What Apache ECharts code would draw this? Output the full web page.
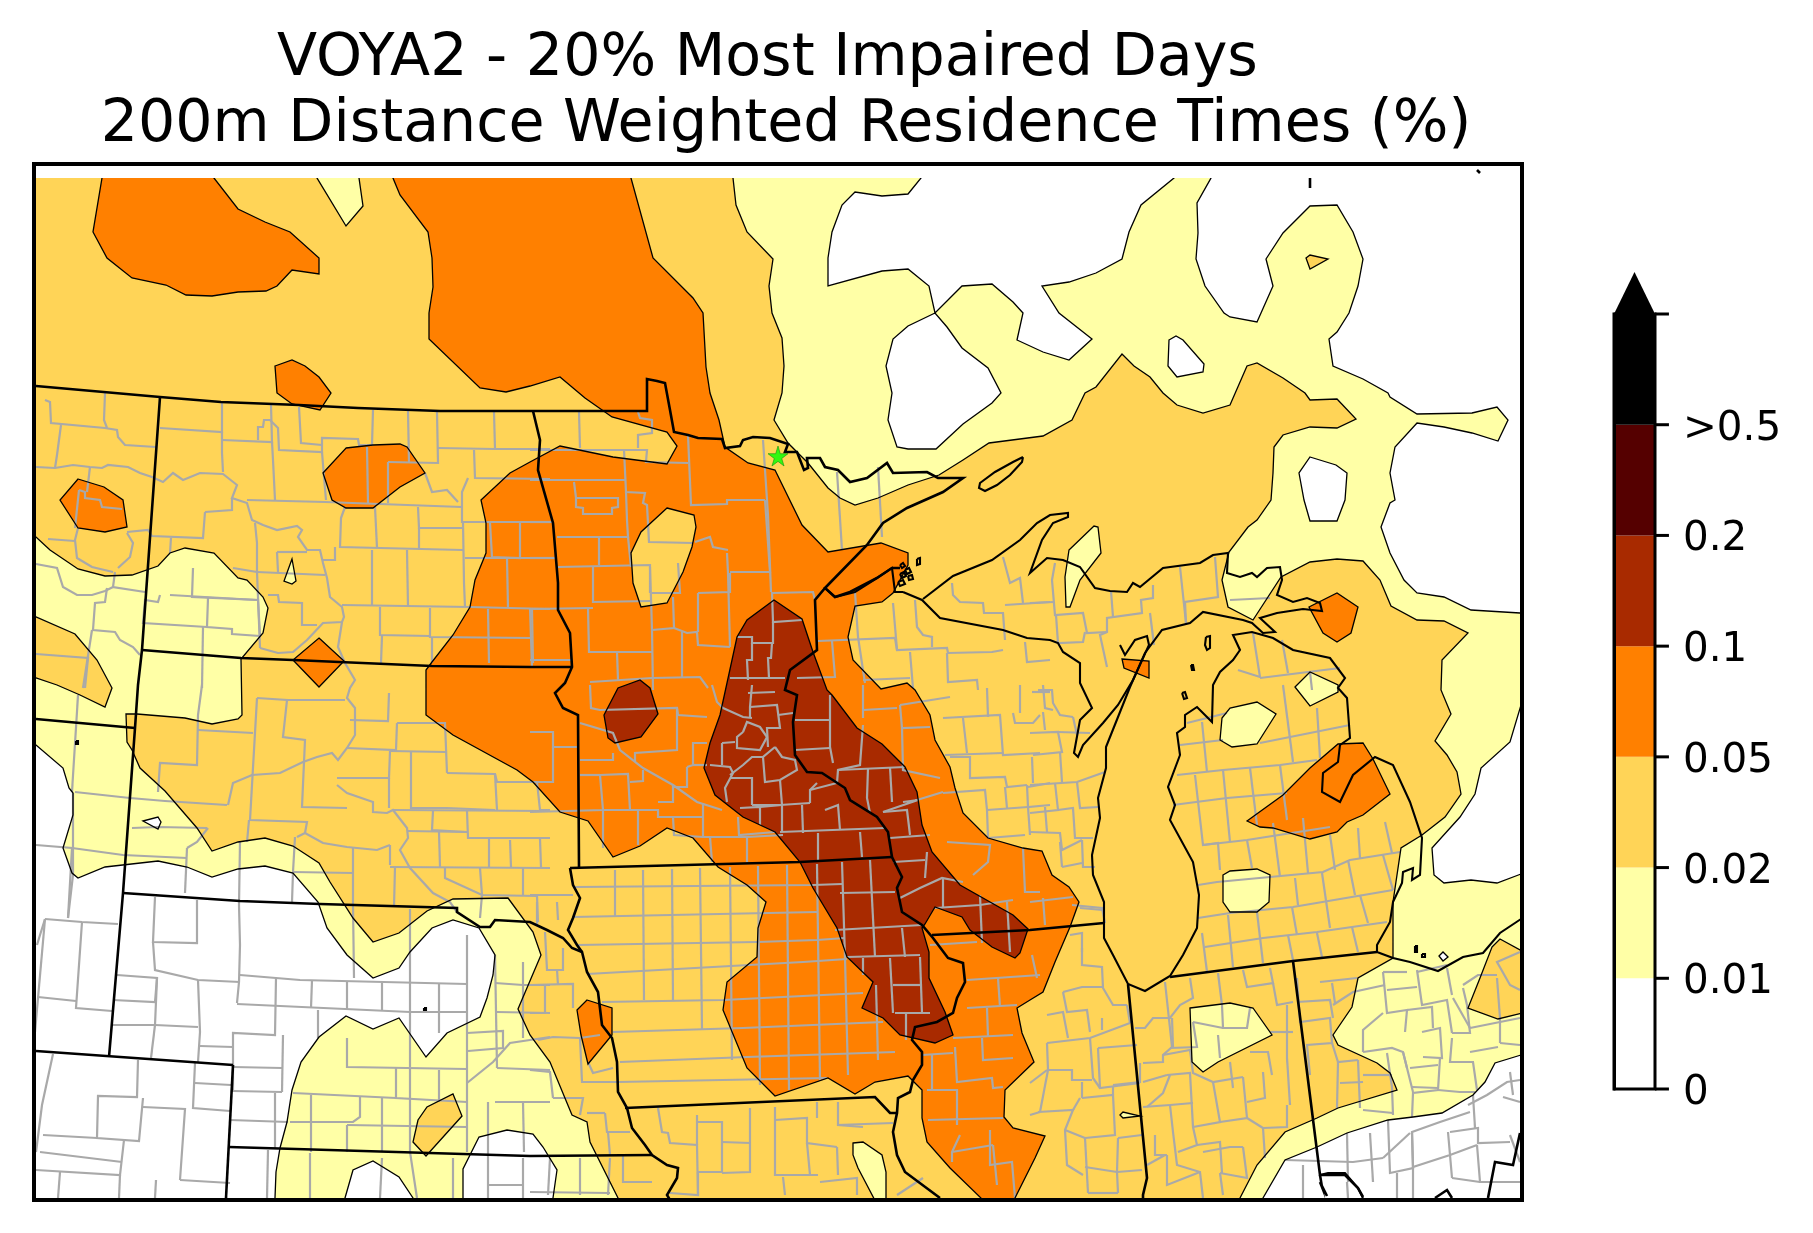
<!DOCTYPE html>
<html>
<head>
<meta charset="utf-8">
<title>VOYA2 residence times</title>
<script src="https://cdn.jsdelivr.net/npm/echarts@6/dist/echarts.min.js"></script>
<style>html,body{margin:0;background:#fff}#chart{width:1813px;height:1233px}</style>
</head>
<body>
<div id="chart"></div>
<script>
// colour bar
const BAR_TICKS = ['0', '0.01', '0.02', '0.05', '0.1', '0.2', '>0.5', ''];
const BAR_COLORS = ['#ffffff', '#ffffa6', '#ffd457', '#ff8000', '#a82a00', '#550000', '#000000'];
const BAR_ARROW_TIP = 7.38;

const STATION = [[778, 456]];

// contour regions, flat x,y lists in map units
const WHITE_AREAS = [
  [921,170,921,178,908,194,882,196,855,192,842,205,832,232,828,258,828,286,882,271,908,269,929,286,935,313,962,286,992,284,1013,302,1023,313,1017,340,1043,352,1069,360,1092,339,1059,313,1042,286,1069,282,1096,273,1122,259,1129,232,1141,205,1174,178,1180,170],
  [1211,170,1211,178,1197,203,1198,233,1196,259,1205,286,1224,313,1230,317,1257,322,1273,286,1266,259,1283,233,1310,206,1337,205,1353,232,1363,259,1358,286,1349,313,1337,332,1329,339,1333,366,1363,379,1388,393,1390,397,1417,414,1472,413,1497,407,1508,420,1498,441,1472,433,1444,427,1417,423,1395,447,1390,473,1395,500,1390,503,1381,527,1390,553,1404,580,1417,593,1444,597,1471,610,1520,613,1535,614,1535,170],
  [935,313,908,326,893,339,886,366,892,393,888,420,897,447,908,449,936,449,963,424,992,403,1001,393,988,368,962,348,947,327],
  [1169,340,1176,336,1183,340,1204,364,1203,372,1177,377,1168,366],
  [1310,457,1336,465,1347,473,1345,500,1337,521,1310,521,1304,500,1299,473],
  [1535,690,1521,705,1510,742,1481,768,1475,794,1460,817,1432,848,1434,875,1444,883,1471,880,1497,883,1521,874,1535,870],
  [1258,1210,1263,1198,1285,1160,1317,1147,1347,1133,1388,1120,1413,1117,1442,1113,1473,1095,1485,1082,1495,1063,1521,1055,1535,1050,1535,1210],
  [20,735,36,745,63,768,69,788,73,793,73,815,63,848,72,873,78,878,105,867,158,861,187,867,212,877,238,869,265,866,293,873,318,902,327,928,347,955,373,978,399,968,410,952,432,928,453,920,479,928,495,955,493,975,487,998,480,1017,447,1033,426,1057,399,1018,373,1029,346,1016,319,1037,301,1062,292,1090,287,1122,280,1148,276,1172,275,1198,275,1210,20,1210],
  [143,821,158,817,161,822,158,829],
  [343,1210,345,1198,353,1170,373,1161,399,1177,413,1198,418,1210],
  [463,1210,463,1169,479,1137,507,1130,533,1134,543,1147,557,1170,553,1198,553,1210],
  [1439,956,1443,952,1448,957,1443,961]
];
const MID_AREAS = [
  [20,170,733,170,733,178,736,205,747,232,773,259,769,286,772,313,782,338,784,366,782,393,774,420,788,443,808,463,828,488,840,498,855,505,878,498,908,485,939,475,963,460,989,443,1043,436,1072,420,1085,393,1096,387,1122,354,1134,366,1150,377,1163,393,1177,405,1203,413,1230,405,1247,366,1257,363,1283,378,1305,393,1310,400,1337,399,1356,419,1337,428,1310,427,1283,435,1274,447,1273,473,1271,500,1257,520,1248,527,1229,552,1222,580,1228,607,1253,620,1281,577,1310,562,1337,559,1363,561,1380,580,1391,606,1417,620,1444,621,1468,633,1442,660,1441,690,1451,714,1435,741,1447,755,1457,772,1461,794,1445,817,1422,835,1401,848,1393,902,1393,958,1358,978,1352,1007,1333,1035,1338,1045,1377,1063,1390,1073,1397,1090,1338,1108,1317,1118,1285,1132,1257,1165,1240,1198,1235,1210,622,1210,618,1198,590,1142,587,1122,572,1115,550,1062,530,1035,518,1009,541,955,533,932,508,898,453,899,427,911,399,933,373,942,353,918,330,882,319,863,293,846,265,838,238,842,212,851,197,828,165,791,140,768,132,750,127,742,126,714,137,714,185,718,212,724,238,719,242,715,241,659,263,633,268,608,263,597,247,580,238,578,214,553,185,548,170,553,158,566,132,575,105,576,78,569,50,550,36,537,20,530],
  [1492,947,1500,939,1535,958,1535,1010,1498,1019,1468,1008,1480,978],
  [20,616,36,617,75,634,97,660,112,688,105,707,80,695,57,685,36,678,20,676],
  [1306,258,1310,255,1328,259,1310,269],
  [453,1094,462,1116,426,1156,413,1142,418,1120,427,1107]
];
const LOW_HOLES = [
  [317,170,317,178,346,226,363,206,359,178,359,170],
  [292,559,296,581,292,584,284,581],
  [1069,550,1094,526,1098,527,1101,553,1080,580,1070,607,1066,607,1065,577],
  [1220,740,1222,718,1230,708,1257,702,1276,714,1257,744,1232,747],
  [1295,687,1310,672,1338,685,1338,692,1310,706],
  [1223,875,1230,871,1257,869,1270,875,1269,902,1257,912,1230,912,1223,902],
  [1190,1008,1230,1003,1253,1008,1272,1035,1218,1062,1203,1072,1192,1062],
  [1120,1115,1123,1112,1140,1116,1123,1118],
  [853,1143,863,1142,882,1155,886,1172,886,1210,880,1210,858,1168,853,1155]
];
const HIGH_AREAS = [
  [102,170,102,178,93,232,107,258,132,278,166,285,186,295,212,296,238,292,266,291,277,286,292,270,319,274,319,258,290,232,265,222,238,209,214,178,208,170],
  [393,170,393,178,400,195,428,232,432,258,433,287,429,313,429,339,480,388,506,392,530,386,560,377,585,398,612,417,667,432,677,446,667,464,613,457,560,446,530,462,510,473,481,500,486,523,486,553,475,580,470,607,453,635,432,662,426,670,426,715,453,735,517,770,533,782,560,812,588,821,613,857,640,846,667,828,693,838,718,867,747,885,766,902,758,928,757,957,727,982,723,1010,747,1068,775,1096,828,1078,855,1094,875,1082,908,1076,922,1090,922,1118,927,1142,950,1168,981,1198,984,1210,1012,1210,1015,1198,1035,1158,1045,1136,1013,1128,1004,1117,1005,1090,1034,1062,1022,1033,1017,1008,1030,1000,1043,992,1055,962,1070,927,1079,902,1069,887,1052,875,1042,851,1023,848,988,838,963,813,955,788,950,767,935,740,930,715,915,690,907,683,881,689,853,660,848,637,855,606,882,602,893,593,908,565,908,553,881,543,828,552,802,525,775,470,748,463,725,447,719,420,710,393,706,367,703,313,693,298,653,258,631,178,629,170],
  [78,479,104,487,123,500,127,527,105,532,78,528,60,500],
  [346,448,373,445,400,444,407,447,425,473,400,487,373,508,346,508,332,500,323,473],
  [275,366,292,360,305,366,319,377,331,393,320,410,292,404,277,393],
  [319,638,344,661,319,687,293,660],
  [587,1000,612,1008,612,1035,588,1064,581,1035,577,1010],
  [1122,659,1149,661,1149,678,1124,668],
  [1309,607,1337,593,1358,607,1351,633,1337,642,1323,633],
  [1247,821,1283,795,1310,768,1338,744,1363,743,1373,759,1390,794,1363,815,1347,822,1337,832,1310,839,1273,828,1260,827]
];
const MID_HOLES = [
  [667,508,694,515,696,527,692,547,683,572,667,603,641,607,633,583,631,553,641,532]
];
const TOP_AREAS = [
  [774,600,747,620,737,637,727,683,720,715,710,743,704,768,715,795,743,817,775,832,800,862,813,888,837,928,847,957,873,982,862,1008,883,1018,900,1035,935,1043,953,1035,945,1012,929,978,929,952,922,928,925,924,935,907,962,917,970,930,992,947,1015,958,1020,953,1028,929,1013,915,960,885,932,852,922,825,917,792,905,767,882,744,857,728,832,695,827,690,813,652,802,619],
  [604,715,618,688,640,680,650,688,658,714,641,737,615,743,608,738]
];

// state borders, rivers on borders and shorelines
const STATE_LINES = [
  [36,386,160,397,221,402,299,405,358,408,440,411,530,411,647,411,647,379,657,381,665,383,670,410,674,432,688,435,698,438,722,439,725,448,740,446,743,440,753,437,770,438,788,444,785,452,797,452,804,470,808,468,807,458,820,458,825,467,838,470,850,482,867,478,887,463,893,473,927,472,938,478,963,478,943,492,907,508,883,523,867,545,825,588,835,597,850,592,877,578,892,568,900,568],
  [825,588,815,600,817,650,790,670,785,690,797,695,793,722,795,755,807,772,822,773,845,788,850,800,877,817,888,832,892,857,902,877,897,888,902,912,922,925,933,938,948,958,963,963,965,982,957,998,953,1013,937,1022,915,1027,912,1040,922,1052,922,1065,913,1080,910,1092,898,1098,897,1113,893,1132,897,1155,905,1172,940,1198],
  [160,397,142,650,138,685,135,728,123,893,109,1057],
  [142,650,241,658,293,660,432,666,530,667,572,667],
  [36,719,135,728],
  [123,893,240,901,320,904,457,908,457,912,480,927,490,927,495,920,530,922,547,930,563,938,572,948,582,952,587,972,598,992,602,1025,612,1038,617,1062,618,1092,627,1108,632,1128,645,1145,652,1155,667,1165,678,1168,677,1178,667,1195,670,1200],
  [533,411,540,440,538,470,553,523,558,583,558,610,570,633,572,667,565,683,555,693,563,708,578,715,579,867],
  [570,868,800,862,892,857],
  [570,868,573,885,580,898,573,918,568,930,577,945,582,952],
  [932,935,1030,930,1104,923],
  [625,1108,875,1097,890,1113,897,1113],
  [229,1147,530,1156,652,1155],
  [233,1065,226,1198],
  [36,1051,233,1065],
  [1128,984,1147,1178,1143,1195,1143,1200],
  [1170,977,1293,961,1377,952],
  [1293,961,1320,1175,1327,1175,1345,1175,1358,1188,1363,1197],
  [1320,1175,1322,1187,1320,1182,1327,1196],
  [1435,1198,1447,1190,1452,1198],
  [1488,1198,1495,1162,1513,1165,1520,1133],
  [1310,178,1310,188],
  [1477,170,1480,173]
];
const COAST_LINES = [
  [903,592,922,600,940,618,1003,630,1027,638,1050,640,1058,643,1063,652,1080,663,1080,683,1092,708,1080,720,1074,753,1078,757,1083,745,1103,723,1118,705,1133,680,1149,645,1147,636,1135,640,1125,655,1120,645],
  [923,599,953,576,992,560,1020,540,1037,523,1050,515,1068,513,1068,517,1053,523,1042,540,1030,573,1047,558,1063,560,1080,567,1095,588,1110,591,1127,592,1133,583,1140,587,1163,568,1200,563,1213,555,1228,553,1227,573,1240,577,1252,573,1257,577,1267,568,1280,567,1282,580,1277,595,1293,602,1307,598,1320,603,1322,611,1303,609,1277,613,1260,618,1275,632,1263,633,1252,623,1243,620,1203,612,1190,623,1162,630,1145,653,1130,687,1106,747,1106,768,1098,798,1100,818,1092,855,1093,875,1104,902,1104,938,1113,955,1128,984,1145,991,1170,976,1183,955,1197,928,1199,895,1193,862,1170,820,1175,805,1168,787,1180,755,1177,733,1185,727,1185,715,1197,707,1212,722,1213,685,1220,672,1233,660,1240,650,1233,635,1252,632,1273,638,1293,650,1330,658,1345,678,1338,688,1347,698,1350,738,1340,745,1338,762,1323,773,1322,792,1340,802,1353,775,1375,757,1393,765,1410,802,1422,838,1420,875,1412,880,1413,868,1403,872,1402,883,1393,902,1390,922,1377,945,1377,952,1393,958,1410,962,1438,971,1463,957,1483,953,1500,933,1521,919],
  [825,588,835,597,855,592,877,578,892,568,895,592,903,592],
  [1320,1175,1328,1173,1345,1173,1358,1188,1363,1198],
  [1023,457,1013,462,995,472,980,483,979,488,985,491,997,485,1010,475,1022,462,1023,457],
  [900,565,903,563,905,566,902,568,900,565],
  [905,570,909,568,911,572,907,574,905,570],
  [900,574,904,572,906,576,902,578,900,574],
  [908,576,912,575,913,579,909,580,908,576],
  [898,582,903,580,905,584,900,586,898,582],
  [917,559,920,558,920,564,917,565,917,559],
  [1206,637,1210,636,1210,648,1207,650,1205,645,1206,637],
  [1191,665,1193,665,1194,670,1192,670,1191,665],
  [1182,693,1185,692,1187,698,1184,699,1182,693],
  [1415,946,1417,946,1417,952,1415,952,1415,946],
  [1422,954,1425,954,1425,957,1422,957,1422,954],
  [76,741,78,741,78,744,76,744,76,741],
  [424,1008,426,1008,426,1010,424,1010,424,1008]
];

// county lines and inner rivers
const COUNTY_LINES = [
  [160,428,222,432,222,402],[222,440,272,442,271,405],[222,432,222,453,223,472],[272,442,273,460,275,500],
  [258,440,258,427,263,427,264,420,270,420,278,428,279,450,322,452,322,438,358,439,359,445,372,445,373,410],
  [299,407,301,443,322,445],[322,452,324,477,326,500],[247,500,325,502,462,507],[367,447,368,503],[388,462,388,503],
  [388,462,438,463,437,412],[408,411,409,463],[438,448,495,449,550,449],[494,412,495,449],[474,450,475,478,550,479],
  [468,478,462,492,462,522,550,522],[425,473,432,492,447,490,458,502],[418,507,419,528,462,528],
  [345,507,341,518,340,547,463,550],[375,507,377,548],[419,528,419,550],[463,522,464,583,465,607],
  [490,523,492,557,520,558,520,523],[465,558,550,558],[507,558,508,608],[335,547,335,560,323,560],[372,550,372,605],
  [407,550,408,607],[342,605,470,607,550,609],[380,607,380,635,430,636],[430,608,430,637,533,638],[382,636,381,663],
  [432,637,432,663],[488,609,489,663],[532,610,533,663],[257,572,325,575],[255,523,257,543,257,572,260,648],
  [277,552,278,572],[277,552,307,552],[205,512,232,510,232,498],[205,512,203,538,152,536,148,530,127,532],[171,538,170,553],
  [193,568,192,597,258,600,260,635],[233,568,257,572],[208,598,207,627,232,629,232,634,260,636],
  [160,595,158,602,145,600,143,623,207,627],[170,595,257,600],[203,627,202,688],[268,595,278,595,279,602,302,603,302,625,317,625],
  [118,568,130,557,133,543,127,533],[78,528,75,540,77,558,92,567,113,572],[48,539,75,541],
  [36,564,57,568,63,587,77,595,92,595,105,591,113,587],[115,572,113,587,145,592],
  [107,588,105,602,95,603,93,630,115,632,120,640,133,647,140,655],[92,630,83,688],[36,654,88,658,85,688],[79,490,75,528],
  [79,490,85,492,85,498,100,500,102,507,122,509],[90,467,87,492],
  [45,400,50,402,51,423,105,428,117,430,118,437,125,445,156,447],[105,393,104,420,107,428],[61,425,57,455,55,468],
  [36,467,55,468,73,465,90,467,102,468,108,465,128,467,140,473,152,477,163,482,173,473,183,480,200,473,223,474,237,485,232,498,247,503,252,520,263,525,277,530,297,526,302,530,298,537,307,550,320,550,323,563,327,578,330,597,342,607,344,617,342,622,323,623,307,640,293,652,278,653,260,648],
  [342,622,338,647,345,663,355,680,350,688,347,698,355,708,355,735,347,748,338,760,332,753,317,757,303,762,280,773,252,775,233,783,228,805],
  [36,845,72,848,68,918],[72,848,123,855,187,858],[75,792,130,798,165,801,227,805],[202,685,198,715,197,765,160,763,158,792],
  [198,730,253,733],[257,698,287,700,283,737,305,740,302,807,347,808],[257,698,250,820,307,822,305,833],[287,700,345,700],
  [350,720,388,721,389,693],[397,723,396,750,347,748],[397,723,445,723,447,773],[390,751,446,752],[390,751,389,778,337,778],
  [389,778,389,808],[337,785,347,793,373,802,373,812,387,813,393,810,407,828,408,838,400,850,410,868,433,893,450,902,457,912],
  [411,752,411,808,447,808],[447,773,495,774,497,782,537,782,540,810,550,810],[447,808,495,810],[495,774,497,810],
  [393,810,550,811],[433,811,432,830,467,832],[467,811,468,838,550,838],[407,831,467,832],[439,832,440,867],[489,839,489,867],
  [510,840,511,867],[540,839,541,867],[390,867,550,868],[390,845,390,865],[445,867,445,878,482,895,537,896,538,922],
  [480,868,482,895,480,918],[523,868,523,896],[297,837,305,833,323,843,347,847,377,850,390,845],[295,837,293,872,292,902],
  [249,820,247,842],[353,848,353,905,354,978],[293,872,353,873],[395,867,394,907],[410,909,410,985,410,1067],
  [240,842,239,905,240,945,239,982,237,1003],[187,848,185,893],[187,848,197,842,208,828],[132,828,158,827,207,828],
  [73,793,73,875,68,918],[78,695,72,792],
  [45,919,82,922,118,924],[45,919,40,935,37,945],[82,922,76,1008,112,1011],[38,997,76,1001],[45,919,35,1032],
  [155,897,153,942,197,943,197,900],[153,942,155,970,198,980,240,982],[117,975,157,978,155,1002,113,1000],
  [157,978,155,1025,113,1025],[198,980,200,1032,198,1062],[155,1025,198,1027],[155,1025,151,1058],[200,1046,233,1047],
  [240,975,300,980,467,984],[276,978,275,1035,233,1033,233,1092],[312,980,311,1008],[347,982,347,1010],
  [237,1004,410,1012,467,1012],[382,983,382,1010],[439,984,439,1033],[467,935,467,1042],[318,1010,318,1038],[283,1035,282,1092],
  [233,1067,282,1068],[233,1091,282,1092],[347,1038,347,1067,467,1069],[396,1068,396,1098,467,1102],[439,1070,439,1102],
  [467,1033,503,1031,503,1048,468,1051],[467,1083,493,1062,510,1043,550,1037],[467,1042,467,1118,467,1152],[293,1093,396,1098],
  [311,1095,311,1152],[360,1096,360,1117,353,1122,290,1122],[347,1125,347,1152],[347,1125,467,1127],[382,1098,382,1152],
  [410,1068,410,1152,417,1198],[495,955,497,1068],[523,962,523,1038],[497,1012,550,1013],[497,1068,550,1070],
  [495,983,523,985,550,985],[495,1102,550,1102],[523,1102,524,1152],[488,1102,488,1152,488,1198],[488,1185,523,1185],
  [523,1158,523,1198],[453,1158,453,1198],[382,1158,380,1198],[310,1153,310,1198],[268,1150,267,1198],[230,1120,288,1122],
  [275,1093,275,1148],[53,1054,42,1105,36,1152],[138,1060,137,1097,98,1096,97,1138,139,1141,143,1098],
  [195,1063,193,1108,230,1111],[195,1083,231,1085],[143,1107,185,1109,180,1180],[124,1140,120,1175,36,1170],[43,1135,97,1138],
  [40,1152,122,1162],[180,1180,230,1183],[156,1180,155,1198],[120,1175,119,1198],[60,1172,58,1198],
  [579,412,580,448],[530,450,623,450,647,450,646,462,688,463],[638,412,640,418,652,420,652,433,638,435,638,448],
  [688,435,691,505,727,504,727,500,765,500],[624,450,626,492,645,493,643,503,647,505,649,542,693,543],[530,480,625,480],
  [574,482,576,498,618,498,618,507,612,508,612,514,583,514,583,508,576,507,576,498],[626,492,627,520,628,537,557,537],
  [530,522,553,522],[599,537,599,565],[558,567,650,565,650,593],[628,537,631,567],[593,567,593,602,650,601],[530,558,557,558],
  [593,608,530,609],[588,608,589,652,652,652],[652,593,680,593,678,563],[650,567,652,630,653,690],[673,597,674,628,652,630],
  [674,628,687,633,697,632,698,645,730,647],[698,593,730,592,730,573],[698,593,698,632],[730,572,770,572,765,500],
  [727,553,728,573,730,647],[695,542,710,537,713,547,728,550],[772,593,813,592,815,600],[772,592,773,622,802,620],
  [773,622,773,643,752,643,752,637,737,637],[752,643,752,660,747,660,748,680],[772,643,771,658,768,658,769,678],[730,678,785,678],
  [617,652,618,680],[682,632,682,677],[590,682,652,678,700,677,708,688],[530,660,572,660],[530,608,532,667],
  [763,440,768,515,771,592],[837,472,842,550],[878,467,882,537],[855,592,858,637,863,670,865,683],
  [818,641,895,638,897,650,947,648,948,653,992,652,1003,650],[832,641,835,677,797,678],[893,603,897,650],
  [915,600,917,627,923,635,932,637,932,647],[952,583,953,595,960,602,983,603,984,613,1003,613,1005,640],
  [1003,557,1010,583,1020,578,1023,603],[1005,605,1050,602],[1025,642,1027,662,1050,660],[947,653,948,682,977,680,978,690],
  [910,652,913,688],[863,680,910,678],
  [1180,567,1186,623],[1215,557,1218,597,1185,602,1186,623],
  [1153,585,1153,598,1141,600,1142,613,1107,618,1107,632,1100,635,1107,667],[1111,591,1113,617],[1150,613,1154,645],
  [1055,563,1052,580,1055,615,1083,613,1087,633,1107,632],[1030,603,1054,602],[1056,615,1058,643,1083,642,1085,632],
  [1230,600,1270,598],[1253,633,1260,677,1238,670],[1282,640,1288,673],[1260,678,1340,668],[1310,672,1312,690],
  [1187,723,1227,713],[1180,745,1223,740],[1260,743,1350,725],[1177,775,1223,770,1280,765,1317,760],[1173,805,1227,798,1287,793],
  [1203,845,1247,840,1330,827],[1198,885,1217,882,1270,877,1323,872,1350,860,1400,852],[1198,918,1230,913,1293,907,1393,890],
  [1205,947,1263,938,1317,932,1387,922],[1195,775,1203,845,1218,843,1220,870],[1202,722,1207,772],[1223,770,1230,842],
  [1250,768,1257,825],[1280,765,1287,820],[1283,685,1293,762],[1317,708,1320,758],[1247,840,1252,868],[1273,823,1280,877],
  [1303,818,1308,873],[1330,835,1335,870],[1358,828,1360,858],[1385,822,1392,853],[1348,860,1355,895],[1383,855,1393,890],
  [1295,878,1298,905],[1322,873,1330,928],[1228,915,1233,967],[1257,912,1263,963],[1292,907,1297,935],[1288,935,1293,960],
  [1360,895,1368,923],[1352,927,1358,952],[1202,933,1207,972],[1317,933,1322,957],
  [1030,733,1058,732,1062,752,1033,755],[1030,785,1077,782,1105,772],[1055,783,1058,810,1030,813],
  [1058,810,1073,808,1075,838,1093,838],[1030,832,1060,833,1062,850,1082,840],[1082,840,1083,867,1095,867],
  [1043,685,1045,708,1053,710],[1080,908,1103,910],
  [1038,690,1052,690,1053,703,1060,715,1073,717],[1043,712,1045,730],[1058,732,1090,733],[1060,752,1062,782],[1032,757,1033,783],
  [1073,717,1077,735],[1077,782,1080,808,1098,807],[1045,807,1047,832],[1060,842,1062,867],[1062,867,1082,863],
  [1072,905,1102,908,1105,923],[1070,935,1082,933,1082,952],[1032,955,1037,978],[1043,898,1045,925],[1030,902,1073,897],
  [943,718,1000,715,1003,755,1040,753],[987,688,988,717],[945,755,1003,753],[950,757,970,757,970,778,1005,777,1007,787,1027,785],
  [1027,785,1028,807,1050,805],[987,810,988,838],[987,810,1028,807],[943,793,985,790,987,810],[1023,848,1025,892,1040,892],
  [947,842,990,845,988,862,973,875],[963,718,967,753],[1013,713,1015,723,1033,723,1040,715],[1032,692,1050,692],[1020,685,1020,713],
  [1005,787,1007,808],[1028,787,1050,783],[1028,807,1030,835],[988,838,1025,835],
  [863,725,860,765,838,770,837,783,810,790,810,803],[830,695,830,747,833,763],[795,720,830,720],[795,750,830,748],
  [868,768,867,798,870,813],[890,767,892,802],[838,770,905,767],[903,802,918,800,883,812],[883,812,907,810,910,835],
  [890,838,930,835],[927,852,925,878],[893,862,925,860],[900,898,920,888,942,878,963,882],[943,878,943,907],
  [935,908,980,905,1013,900],[980,895,982,943],[1007,902,1010,952],
  [730,778,752,778,752,805],[710,765,730,767,733,773,725,788,727,802],[752,805,780,805,810,803],
  [743,732,737,737,737,748,760,750,767,737,760,727,747,722,743,732],[723,708,743,717,752,718],
  [750,707,777,705,780,728,767,728,768,747],[748,693,775,692],[752,685,750,707,750,718],[778,715,793,713],[722,743,735,742],
  [722,743,722,765],[763,757,752,757,743,765,730,775],[775,747,763,757,765,782,780,780,797,770,795,760,782,757,775,747],
  [780,780,782,805,782,832],[802,805,803,833],[825,810,838,805,840,830],[810,790,817,783],[740,808,760,807,760,825],
  [780,832,885,828],[818,833,818,860],[860,832,862,857],
  [590,685,591,708,600,710,677,708,678,715,707,717],[677,708,677,750,635,753,635,762],[530,732,553,732,553,747,577,747],
  [553,747,553,782,530,782],[580,723,613,733,620,750,643,768,673,785,697,802,722,810],[580,760,613,760,613,753],
  [600,775,628,774,630,810],[600,775,603,810,530,812],[630,782,643,781,643,770],[580,775,600,775],
  [603,810,658,810,658,817,703,817],[673,785,673,802,658,802],[638,810,638,845],[603,810,603,848],
  [703,803,703,837,747,837,747,862],[673,817,674,835,703,837],[710,837,712,862],[687,767,687,787,673,787],
  [687,767,693,765,693,743,707,743],[693,765,707,765],[712,685,717,702,723,708],[738,817,739,835,775,832],[760,807,782,805],
  [747,837,783,835],[900,705,902,728,930,727],[900,705,950,697],[902,728,903,770,940,778],[863,710,897,708],[863,685,863,718],
  [943,792,917,800],
  [575,887,813,885,842,884],[840,893,895,892],[573,917,817,912],[835,930,922,925],[577,945,757,942,817,940,845,938],[847,957,920,955],
  [587,974,803,962,847,959],[602,1002,723,1000,863,993],[893,985,920,985],[895,1013,930,1013],
  [613,1032,743,1028,883,1022],[620,1062,747,1057,895,1052],[618,1082,827,1078],
  [615,870,615,917],[643,870,644,1000],[672,869,673,1000],[700,868,702,1030],[730,867,732,1060],[758,866,760,1085],
  [787,865,789,1090],[817,864,820,1080],[842,862,845,958,848,1075],[870,860,875,957],[876,985,878,1060],[902,928,905,957],
  [890,958,893,1013],[920,957,922,1013],[863,958,863,975],[906,1013,906,1040],
  [930,945,977,942],[967,980,1040,975],[998,978,1000,1007],[967,1008,1017,1005],[987,1008,988,1037],[953,1038,1013,1035],
  [955,1047,957,1082,992,1078,993,1088,1003,1087],[982,1038,983,1060,1013,1058],[932,1055,932,1090],[922,1055,953,1053],
  [927,1090,957,1090,957,1125],[928,1120,1003,1118],[960,1135,952,1152,952,1162],[990,1130,990,1165,1012,1162,1015,1198],
  [952,1152,993,1145],[993,1145,997,1185],
  [1082,948,1082,965,1102,967,1103,988,1113,1005,1127,1005],[1063,992,1067,1012,1087,1010,1090,1032],
  [1047,1043,1090,1038,1130,1023],[1047,1043,1048,1070,1072,1070,1072,1080,1092,1080],[1090,1038,1093,1078,1100,1088],
  [1098,1048,1137,1045],[1098,1048,1100,1088,1140,1083],[1082,1098,1113,1095,1115,1135,1085,1138],
  [1038,1112,1073,1110,1065,1130,1067,1165,1083,1175],[1085,1138,1088,1193],[1117,1172,1142,1170],[1118,1138,1142,1135],
  [1118,1138,1117,1172,1118,1193],[1030,1083,1047,1070],
  [1063,992,1082,987,1102,987],[1047,1015,1063,1012,1068,1038],[1082,1098,1082,1082],[1048,1070,1040,1112],[1113,1085,1140,1082],
  [1113,1095,1113,1087],[1085,1138,1065,1130],[1085,1167,1117,1172],[1127,1005,1130,1023],[1102,1018,1102,1030],[1073,1110,1080,1098],
  [1088,1193,1118,1193],[1030,1115,1040,1112],
  [1165,982,1172,1047,1163,1055,1163,1062,1143,1063],[1190,978,1193,998,1180,1005,1170,1018,1153,1018,1145,1028,1135,1028],
  [1218,973,1222,1005,1223,1028,1247,1028,1250,1008],[1243,970,1247,987,1273,983,1270,968],[1273,983,1277,1005,1293,1002],
  [1218,1035,1220,1058],[1163,1055,1190,1050,1193,1073,1213,1082,1243,1077],[1213,1082,1220,1122,1193,1127],
  [1167,1075,1190,1073,1193,1127,1197,1145,1178,1152],[1243,1077,1247,1118,1220,1122],[1263,1072,1265,1098,1247,1102],
  [1287,1058,1290,1105],[1263,1128,1287,1127,1287,1105],[1203,1152,1230,1147,1243,1147],[1147,1107,1163,1093,1170,1075],
  [1170,1105,1193,1103],[1170,1105,1173,1132,1177,1165,1200,1172,1203,1198],[1155,1135,1155,1155,1167,1155],
  [1243,1147,1247,1178,1220,1173],[1220,1173,1223,1195],
  [1140,1063,1140,1083],[1172,1018,1173,1047],[1170,1048,1197,1047,1193,1022],[1193,1022,1223,1028],[1230,1062,1233,1088],
  [1250,1052,1268,1052,1272,1075],[1287,1005,1287,1058],[1270,1032,1293,1032],[1143,1082,1167,1075],[1143,1107,1170,1105],
  [1147,1165,1165,1155],[1167,1155,1167,1185,1200,1172],[1197,1145,1220,1142,1222,1173],[1247,1118,1263,1128],[1263,1128,1265,1158],
  [1297,978,1300,1022,1330,1018,1332,1043,1307,1045,1310,1075],[1332,1043,1338,1062,1358,1060],
  [1383,972,1387,1013,1407,1010,1405,1032],[1383,1013,1363,1030,1363,1052],[1363,1052,1392,1048,1403,1052,1407,1068],
  [1417,970,1422,1005,1447,1000,1452,1033],[1387,990,1417,987],[1422,1032,1440,1028,1442,1058,1423,1057],
  [1407,1010,1432,1007,1433,1028],[1452,1033,1470,1033,1467,1005,1463,988],[1452,1038,1450,1062,1473,1062,1477,1090],
  [1470,1028,1520,1018],[1500,1043,1520,1045],[1440,1058,1438,1090,1413,1093,1412,1117],[1403,1052,1413,1092],
  [1387,1053,1392,1087,1393,1115],[1358,1060,1360,1108],[1338,1062,1337,1108],[1363,1110,1393,1113],[1438,1090,1460,1092,1475,1092],
  [1333,1005,1353,992,1385,985],[1297,1002,1330,1000,1333,1018],[1320,982,1357,978],[1332,983,1335,1003],[1410,1068,1438,1065],
  [1412,1087,1438,1088],[1363,1075,1392,1075],[1340,1083,1363,1082],[1463,985,1478,975,1497,975],[1497,978,1500,1018],
  [1520,952,1497,962,1510,985,1520,990],[1453,998,1470,1028],[1500,1018,1500,1043],[1470,1052,1498,1047],[1407,972,1383,972],
  [1417,972,1447,965],[1447,968,1452,995],
  [1388,1120,1390,1173,1413,1168,1412,1132,1440,1122,1470,1112],[1347,1133,1348,1182],[1370,1133,1373,1182],
  [1412,1132,1413,1167,1450,1155,1448,1132],[1450,1132,1478,1128,1478,1143,1510,1142],[1468,1105,1487,1095,1507,1082,1520,1080],
  [1450,1155,1452,1178],[1477,1145,1480,1182,1520,1182],[1285,1160,1353,1162,1383,1158],[1303,1165,1303,1198],[1347,1182,1348,1198],
  [1397,1198,1397,1173],[1473,1095,1475,1128],[1510,1072,1513,1095],[1503,1097,1520,1102],[1510,1135,1520,1162],[1383,1158,1410,1133],
  [1413,1167,1413,1198],[1450,1155,1477,1145],[1452,1178,1480,1182],
  [658,1108,662,1132,668,1133,670,1143,697,1145,698,1195],[697,1115,697,1145],[697,1122,722,1122,722,1172,698,1172],
  [750,1108,750,1172,722,1173],[722,1142,750,1143],[775,1107,775,1175,818,1175],[775,1120,807,1118,807,1143,837,1147],
  [807,1143,810,1175],[838,1102,838,1125,863,1127],[837,1147,838,1175],[837,1125,893,1123],[817,1102,817,1118],[783,1177,785,1195],
  [820,1182,857,1178,857,1195],[897,1195,923,1178],[698,1172,698,1195,670,1193],
  [550,1158,548,1195],[580,1158,580,1195],[610,1158,608,1195],[530,1192,610,1193],[623,1155,623,1182,652,1182],
  [530,895,573,895],[537,902,537,925],[557,902,558,920],[545,932,547,970,563,970,563,948],[530,985,573,984,573,1008],
  [545,985,545,1013,530,1013],[557,970,558,985],[538,1040,553,1037,580,1038,600,1035],[588,1062,593,1073,613,1068],
  [530,1070,550,1072,553,1098],[580,1038,582,1082,618,1082],[553,1098,583,1098,580,1115],[605,1113,607,1132,630,1132],
  [587,1113,605,1113],[608,1132,610,1155]
];

const toPoints = (flat) => {
  const pts = [];
  for (let i = 0; i < flat.length; i += 2) pts.push([flat[i], flat[i + 1]]);
  return pts;
};

// one custom series per layer, everything goes through the axes
const shapeSeries = (shapes, type, style, axis, z) => ({
  type: 'custom',
  coordinateSystem: 'cartesian2d',
  xAxisIndex: axis,
  yAxisIndex: axis,
  clip: true,
  silent: true,
  animation: false,
  z: z,
  data: shapes.map((s, i) => [i]),
  renderItem: (params, api) => ({
    type: type,
    shape: { points: toPoints(shapes[params.dataIndex]).map((p) => api.coord(p)) },
    style: style,
  }),
});

const fill = (color) => ({ fill: color, stroke: null });
const outline = { fill: 'none', stroke: '#000', lineWidth: 1.3 };
const allContours = [].concat(WHITE_AREAS, MID_AREAS, LOW_HOLES, HIGH_AREAS, MID_HOLES, TOP_AREAS);

const MAP = 0, FRAME = 1, BAR = 2;

const barSeries = {
  type: 'custom',
  coordinateSystem: 'cartesian2d',
  xAxisIndex: BAR,
  yAxisIndex: BAR,
  clip: false,
  silent: true,
  animation: false,
  z: 3,
  data: BAR_COLORS.map((c, i) => [i]),
  renderItem: (params, api) => {
    const i = params.dataIndex;
    const a = api.coord([0, i]);
    const b = api.coord([1, i + 1]);
    return {
      type: 'group',
      children: [
        { type: 'rect', shape: { x: a[0], y: b[1], width: b[0] - a[0], height: a[1] - b[1] }, style: { fill: BAR_COLORS[i] } },
      ].concat(i === BAR_COLORS.length - 1 ? [{
        type: 'polygon',
        shape: { points: [api.coord([0, i + 1]), api.coord([1, i + 1]), api.coord([0.5, BAR_ARROW_TIP])] },
        style: { fill: '#000' },
      }] : []),
    };
  },
};

// axis ticks of the bar did not show, so they are drawn on its scale here
const barTickSeries = {
  type: 'custom',
  coordinateSystem: 'cartesian2d',
  xAxisIndex: BAR,
  yAxisIndex: BAR,
  clip: false,
  silent: true,
  animation: false,
  z: 25,
  data: BAR_TICKS.map((t, i) => [i]),
  renderItem: (params, api) => {
    const a = api.coord([1, params.dataIndex]);
    const b = api.coord([1.34, params.dataIndex]);
    return {
      type: 'line',
      shape: { x1: a[0], y1: a[1], x2: b[0], y2: b[1] },
      style: { stroke: '#000', lineWidth: 3 },
    };
  },
};

const hiddenAxis = (grid, min, max, inverse) => ({
  type: 'value', gridIndex: grid, min: min, max: max, inverse: inverse, show: false, splitLine: { show: false },
});

const chart = echarts.init(document.getElementById('chart'), null, { renderer: 'canvas' });
chart.setOption({
  animation: false,
  backgroundColor: '#fff',
  title: {
    // the two trailing spaces keep the first line off-centre as in the source figure
    text: 'VOYA2 - 20% Most Impaired Days\u00a0\u00a0\n200m Distance Weighted Residence Times (%)',
    left: 781,
    top: 22,
    textAlign: 'center',
    textStyle: { fontFamily: 'DejaVu Sans', fontSize: 58.6, fontWeight: 'normal', color: '#000', lineHeight: 66 },
  },
  grid: [
    { left: 34, top: 178, width: 1488, height: 1022 },
    { left: 34, top: 164, width: 1488, height: 1036, show: true, borderColor: '#000', borderWidth: 4, backgroundColor: 'transparent', z: 20 },
    { left: 1614, top: 314, width: 41, height: 775, show: true, borderColor: '#000', borderWidth: 3, backgroundColor: 'transparent', z: 20 },
  ],
  xAxis: [hiddenAxis(MAP, 34, 1522, false), hiddenAxis(FRAME, 34, 1522, false), hiddenAxis(BAR, 0, 1, false)],
  yAxis: [
    hiddenAxis(MAP, 178, 1200, true),
    hiddenAxis(FRAME, 164, 1200, true),
    {
      type: 'value',
      gridIndex: BAR,
      position: 'right',
      min: 0,
      max: 7,
      interval: 1,
      z: 30,
      splitLine: { show: false },
      axisLine: { show: true, lineStyle: { color: '#000', width: 3 } },
      axisTick: { show: false },
      axisLabel: {
        margin: 28,
        showMinLabel: true,
        showMaxLabel: true,
        formatter: (v) => '{t|' + BAR_TICKS[v] + '}',
        rich: { t: { color: '#000', fontFamily: 'DejaVu Sans', fontSize: 40.4, padding: [9, 0, 0, 0] } },
      },
    },
  ],
  series: [
    shapeSeries([[20, 170, 1535, 170, 1535, 1210, 20, 1210]], 'polygon', fill(BAR_COLORS[1]), MAP, 2),
    shapeSeries(WHITE_AREAS, 'polygon', fill(BAR_COLORS[0]), MAP, 3),
    shapeSeries(MID_AREAS, 'polygon', fill(BAR_COLORS[2]), MAP, 4),
    shapeSeries(LOW_HOLES, 'polygon', fill(BAR_COLORS[1]), MAP, 5),
    shapeSeries(HIGH_AREAS, 'polygon', fill(BAR_COLORS[3]), MAP, 6),
    shapeSeries(MID_HOLES, 'polygon', fill(BAR_COLORS[2]), MAP, 7),
    shapeSeries(TOP_AREAS, 'polygon', fill(BAR_COLORS[4]), MAP, 8),
    shapeSeries(COUNTY_LINES, 'polyline', { fill: 'none', stroke: '#a9a9a9', lineWidth: 2.2 }, MAP, 9),
    shapeSeries(allContours, 'polygon', outline, MAP, 10),
    shapeSeries(COAST_LINES, 'polyline', { fill: 'none', stroke: '#000', lineWidth: 2.1 }, FRAME, 11),
    shapeSeries(STATE_LINES, 'polyline', { fill: 'none', stroke: '#000', lineWidth: 2.6 }, FRAME, 12),
    {
      type: 'scatter',
      xAxisIndex: FRAME,
      yAxisIndex: FRAME,
      data: STATION,
      symbol: 'path://M50,0 L61,35 98,35 68,57 79,91 50,70 21,91 32,57 2,35 39,35 Z',
      symbolSize: 20,
      silent: true,
      z: 13,
      itemStyle: { color: '#00ff00', borderColor: '#0a8a0a', borderWidth: 0.7 },
    },
    barSeries,
    barTickSeries,
  ],
});
</script>
</body>
</html>
